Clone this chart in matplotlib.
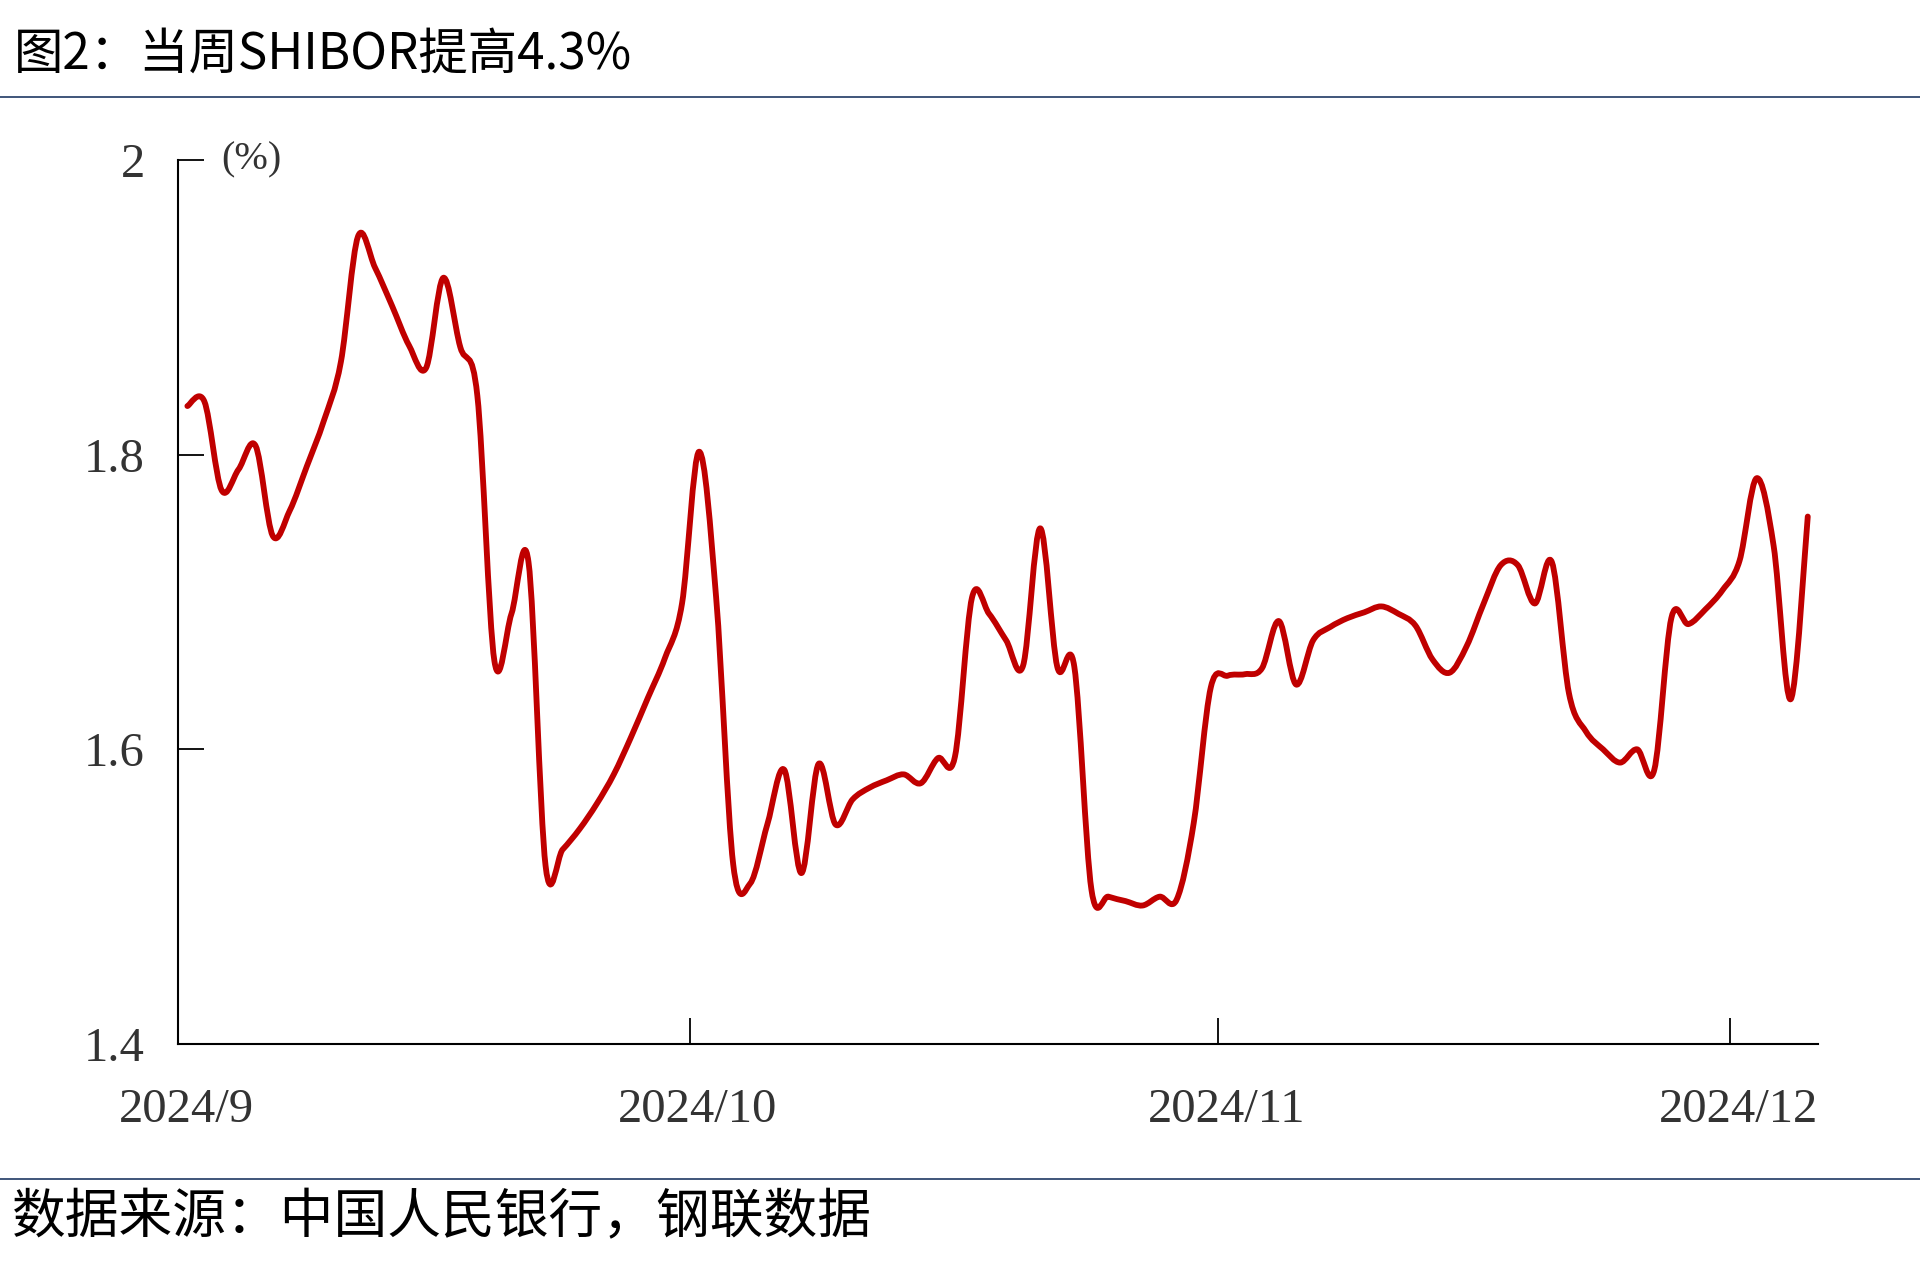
import numpy as np
import matplotlib
matplotlib.use("Agg")
import matplotlib.pyplot as plt
import matplotlib.dates as mdates
from matplotlib.path import Path
from matplotlib.patches import PathPatch
from matplotlib.lines import Line2D
from matplotlib.transforms import ScaledTranslation
import pandas as pd

# ---------------- data ----------------
title = "图2：当周SHIBOR提高4.3%"
source = "数据来源：中国人民银行，钢联数据"
unit_label = "(%)"
start_date = "2024-09-01"
shibor = [
    1.833, 1.836, 1.776, 1.790, 1.806, 1.745, 1.762, 1.792, 1.823, 1.863,
    1.948, 1.927, 1.901, 1.874, 1.859, 1.920, 1.873, 1.840, 1.660, 1.692,
    1.727, 1.521, 1.532, 1.546, 1.563, 1.583, 1.608, 1.635, 1.662, 1.699,
    1.802, 1.703, 1.522, 1.509, 1.549, 1.586, 1.516, 1.590, 1.549, 1.566,
    1.574, 1.579, 1.583, 1.577, 1.594, 1.595, 1.703, 1.692, 1.674, 1.657,
    1.750, 1.656, 1.656, 1.505, 1.500, 1.497, 1.494, 1.500, 1.498, 1.550,
    1.642, 1.650, 1.651, 1.655, 1.687, 1.644, 1.674, 1.683, 1.689, 1.693,
    1.697, 1.692, 1.684, 1.661, 1.652, 1.670, 1.699, 1.725, 1.725, 1.699,
    1.727, 1.638, 1.612, 1.600, 1.591, 1.600, 1.586, 1.689, 1.685, 1.695,
    1.708, 1.728, 1.784, 1.738, 1.634, 1.758,
]
x_tick_dates = ["2024-09-01", "2024-10-01", "2024-11-01", "2024-12-01"]
x_tick_labels = ["2024/9", "2024/10", "2024/11", "2024/12"]
y_ticks = [1.4, 1.6, 1.8, 2.0]
y_tick_labels = ["1.4", "1.6", "1.8", "2"]
x_end_date = "2024-12-06"

# ---------------- figure ----------------
W, H = 1920, 1279
fig = plt.figure(figsize=(W / 100, H / 100), dpi=100)
fig.patch.set_facecolor("white")

ax = fig.add_axes([178 / W, 1 - 1044 / H, (1818 - 178) / W, (1044 - 160) / H])

dates = pd.date_range(start_date, periods=len(shibor), freq="D")
xs = mdates.date2num(dates.to_pydatetime()) + 0.55   # points sit inside the day cell
ys = np.asarray(shibor, dtype=float)

# smooth line (Excel-like Catmull-Rom / Bezier smoothing)
verts = [(xs[0], ys[0])]
codes = [Path.MOVETO]
n = len(xs)
for i in range(n - 1):
    p0 = np.array([xs[max(i - 1, 0)], ys[max(i - 1, 0)]])
    p1 = np.array([xs[i], ys[i]])
    p2 = np.array([xs[i + 1], ys[i + 1]])
    p3 = np.array([xs[min(i + 2, n - 1)], ys[min(i + 2, n - 1)]])
    c1 = p1 + (p2 - p0) / 6.0
    c2 = p2 - (p3 - p1) / 6.0
    verts += [tuple(c1), tuple(c2), tuple(p2)]
    codes += [Path.CURVE4] * 3
path = Path(verts, codes)
ax.add_patch(PathPatch(path, facecolor="none", edgecolor="#C00000", lw=4.2,
                       capstyle="round", joinstyle="round"))
ax.plot(xs, ys, alpha=0)

ax.set_ylim(1.4, 2.0)
ax.set_xlim(mdates.date2num(pd.Timestamp(start_date)),
            mdates.date2num(pd.Timestamp(x_end_date)) + 0.15)

serif = "Liberation Serif"
ax.set_yticks(y_ticks)
ax.set_yticklabels(y_tick_labels, fontfamily=serif, fontsize=35, color="#333333")
ax.set_xticks(mdates.date2num([pd.Timestamp(d) for d in x_tick_dates]))
ax.set_xticklabels(x_tick_labels, fontfamily=serif, fontsize=35, color="#333333")

ax.tick_params(axis="y", direction="in", length=19, width=1.3, pad=24, color="black")
ax.tick_params(axis="x", direction="in", length=19, width=1.3, pad=32, color="black")

shift = ScaledTranslation(8 / 100, 0, fig.dpi_scale_trans)
for lab in ax.get_xticklabels():
    lab.set_transform(lab.get_transform() + shift)

for s in ["top", "right"]:
    ax.spines[s].set_visible(False)
for s in ["left", "bottom"]:
    ax.spines[s].set_linewidth(1.5)
    ax.spines[s].set_color("black")

# unit label
fig.text(251 / W, 1 - 160 / H, unit_label, ha="center", va="center",
         fontfamily=serif, fontsize=29, color="#333333")

# title & source
cjk = ["Noto Sans CJK SC", "DejaVu Sans"]
fig.text(14 / W, 1 - 55 / H, title, ha="left", va="center",
         fontfamily=cjk, fontsize=35.6, color="black")
fig.text(12 / W, 1 - 1218 / H, source, ha="left", va="center",
         fontfamily=cjk, fontsize=38.7, color="black")

navy = "#1F3864"
fig.add_artist(Line2D([0, 1], [1 - 97 / H] * 2, color=navy, lw=1.2,
                      transform=fig.transFigure))
fig.add_artist(Line2D([0, 1], [1 - 1179 / H] * 2, color=navy, lw=1.2,
                      transform=fig.transFigure))

fig.savefig("out.png", dpi=100, facecolor="white")
